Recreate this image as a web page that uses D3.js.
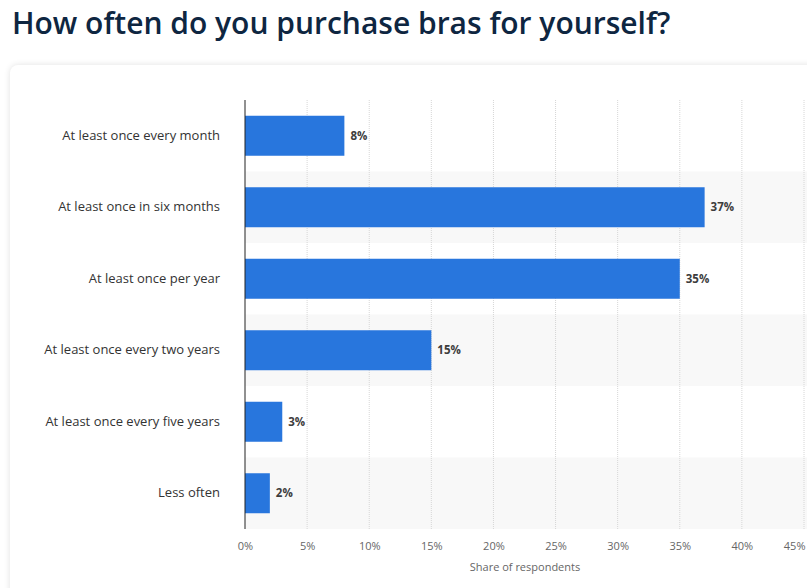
<!DOCTYPE html>
<html>
<head>
<meta charset="utf-8">
<script src="https://cdn.jsdelivr.net/npm/d3@7"></script>
<style>
  body { margin: 0; background: #fff; font-family: "Open Sans", sans-serif; overflow: hidden; }
  #title { position: absolute; left: 12px; top: 2px; margin: 0; font-size: 30px; font-weight: 600; color: #0e2641; }
  #card { position: absolute; left: 10px; top: 65px; width: 820px; height: 560px; background: #fff;
          border-radius: 8px; box-shadow: 0 0 6px rgba(0,0,0,0.12); }
  #container { position: absolute; left: 0; top: 0; }
</style>
</head>
<body>
<h1 id="title">How often do you purchase bras for yourself?</h1>
<div id="card"></div>
<div id="container"></div>
<script>
/* DATA */
const categories = [
  "At least once every month",
  "At least once in six months",
  "At least once per year",
  "At least once every two years",
  "At least once every five years",
  "Less often"
];
const values = [8, 37, 35, 15, 3, 2];
const xTicks = [0, 5, 10, 15, 20, 25, 30, 35, 40, 45];

/* LAYOUT */
const width = 807, height = 588;
const margin = { top: 100, left: 245, right: 3, bottom: 59 };

const svg = d3.select("#container")
  .append("svg")
  .attr("width", width)
  .attr("height", height);

const xScale = d3.scaleLinear()
  .domain([0, 45])
  .range([margin.left, width - margin.right]);

const yScale = d3.scaleBand()
  .domain(categories)
  .range([margin.top, height - margin.bottom]);

// alternating row backgrounds
svg.selectAll(".row-bg")
  .data(categories.filter((_, i) => i % 2 === 1))
  .join("rect")
  .attr("class", "row-bg")
  .attr("x", margin.left)
  .attr("y", d => yScale(d))
  .attr("width", width - margin.left)
  .attr("height", yScale.bandwidth())
  .attr("fill", "#f8f8f8");

// gridlines
svg.selectAll(".grid")
  .data(xTicks.slice(1))
  .join("line")
  .attr("class", "grid")
  .attr("x1", d => xScale(d))
  .attr("x2", d => xScale(d))
  .attr("y1", margin.top)
  .attr("y2", height - margin.bottom)
  .attr("stroke", "#d6d6d6")
  .attr("stroke-dasharray", "1,1");

// bars
const barH = 40;
svg.selectAll(".bar")
  .data(values)
  .join("rect")
  .attr("class", "bar")
  .attr("x", xScale(0))
  .attr("y", (d, i) => yScale(categories[i]) + (yScale.bandwidth() - barH) / 2)
  .attr("width", d => xScale(d) - xScale(0))
  .attr("height", barH)
  .attr("fill", "#2876dd");

// value labels
svg.selectAll(".val")
  .data(values)
  .join("text")
  .attr("class", "val")
  .attr("x", d => xScale(d) + 6)
  .attr("y", (d, i) => yScale(categories[i]) + yScale.bandwidth() / 2)
  .attr("dy", "0.35em")
  .style("font-size", "11.5px")
  .style("font-weight", "bold")
  .attr("fill", "#3d3d3d")
  .text(d => d + "%");

// y axis line
svg.append("line")
  .attr("x1", xScale(0)).attr("x2", xScale(0))
  .attr("y1", margin.top).attr("y2", height - margin.bottom)
  .attr("stroke", "#222")
  .attr("stroke-width", 1);

// category labels
const yAxis = svg.append("g")
  .attr("transform", `translate(${margin.left - 25},0)`)
  .call(d3.axisLeft(yScale).tickSize(0));
yAxis.select(".domain").remove();
yAxis.selectAll("text")
  .attr("x", 0)
  .style("font-family", "'Open Sans', sans-serif")
  .style("font-size", "13px")
  .attr("fill", "#333");

// x axis tick labels
const xAxis = svg.append("g")
  .attr("transform", `translate(0,${height - margin.bottom + 10})`)
  .call(d3.axisBottom(xScale).tickValues(xTicks).tickSize(0).tickFormat(d => d + "%"));
xAxis.select(".domain").remove();
xAxis.selectAll("text")
  .style("font-family", "'Open Sans', sans-serif")
  .style("font-size", "11px")
  .attr("fill", "#666");
// keep last tick label inside the page
xAxis.selectAll(".tick")
  .filter(d => d === 45)
  .select("text")
  .attr("text-anchor", "end")
  .attr("x", 1);

// axis title
svg.append("text")
  .attr("x", 525)
  .attr("y", 571)
  .attr("text-anchor", "middle")
  .style("font-size", "11px")
  .attr("fill", "#666")
  .text("Share of respondents");
</script>
</body>
</html>
